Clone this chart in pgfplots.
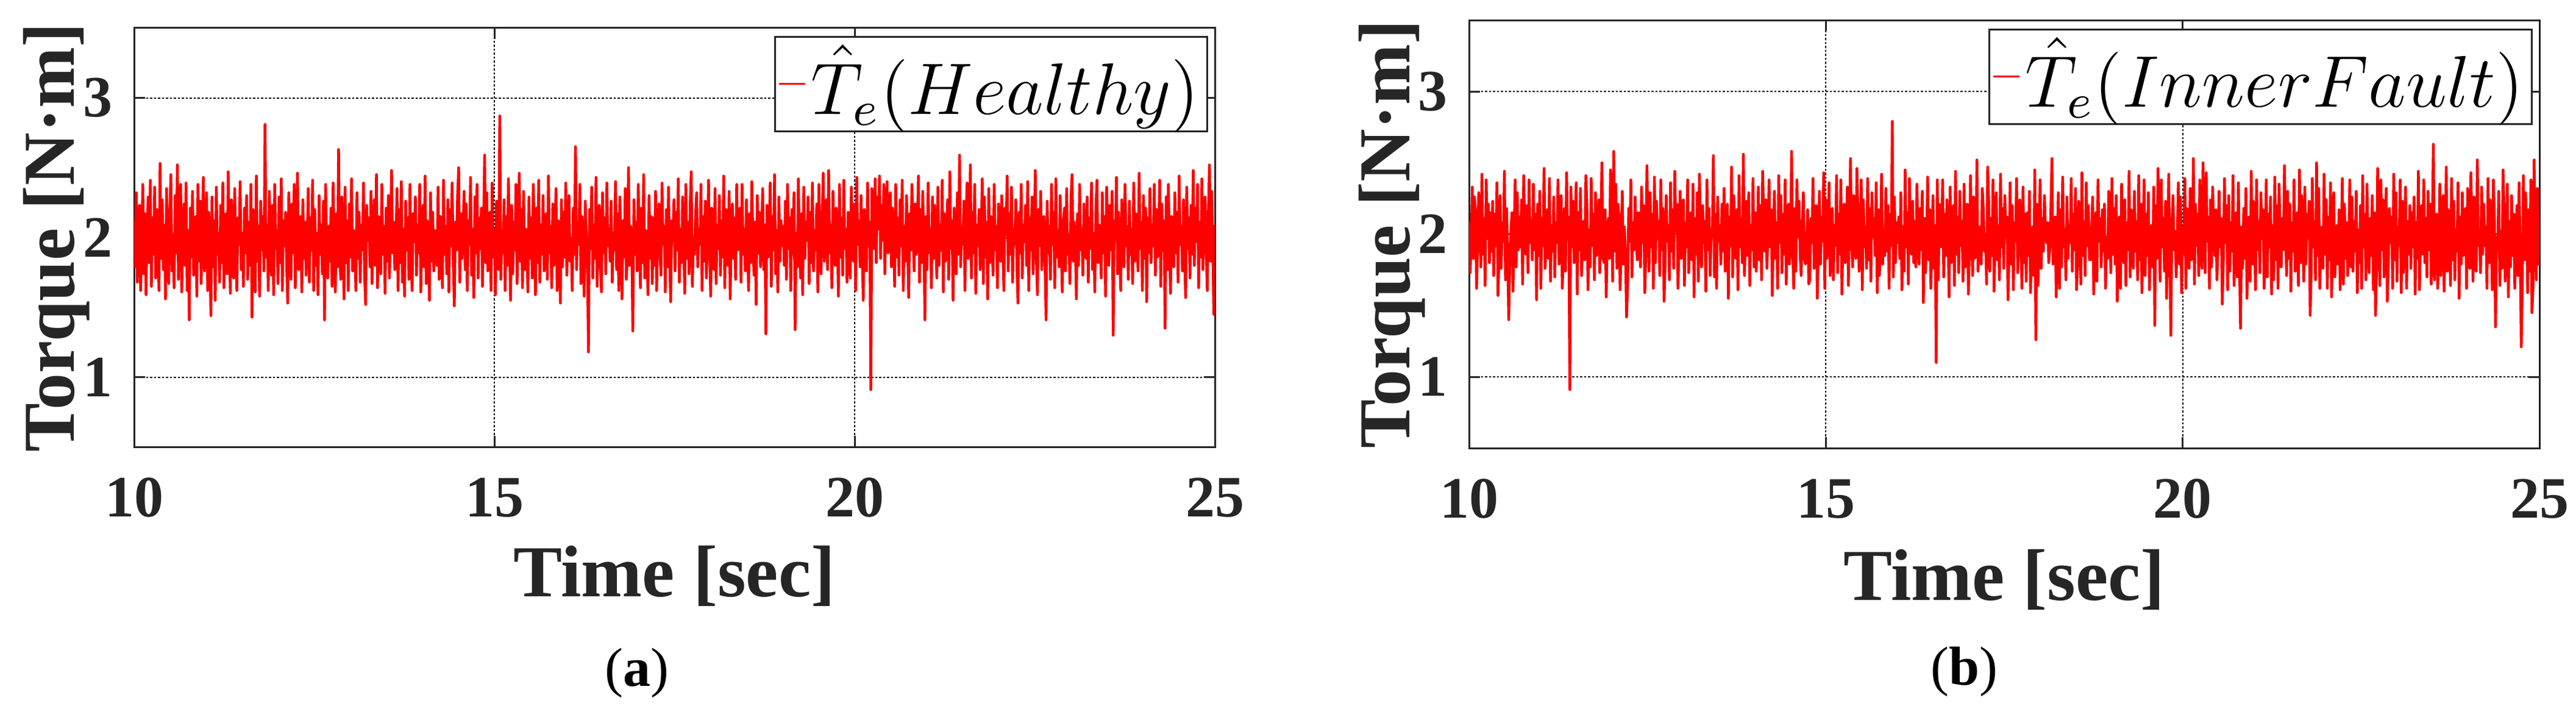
\documentclass[border=0pt]{standalone}
\usepackage{pgfplots}
\pgfplotsset{compat=1.18}
\usepackage{pgfplotstable}
\usepackage{fontspec}
\setmainfont{Liberation Serif}
\definecolor{axgray}{RGB}{38,38,38}

\pgfplotstableread[row sep=\\]{
y\\
2.12\\1.79\\2.32\\1.68\\2.03\\2.23\\1.62\\1.92\\2.38\\1.74\\2.17\\1.59\\2.06\\2.29\\1.82\\2.41\\1.65\\2.14\\1.88\\2.36\\
1.71\\2.20\\1.95\\1.62\\2.53\\1.85\\2.27\\1.77\\2.09\\1.56\\2.35\\1.94\\1.67\\2.18\\2.45\\1.76\\2.02\\1.64\\2.30\\1.89\\
2.52\\1.70\\2.11\\2.38\\1.61\\1.98\\2.24\\1.80\\2.39\\1.62\\2.05\\1.41\\2.21\\1.86\\2.33\\1.73\\1.97\\2.15\\1.58\\2.38\\
1.83\\2.26\\1.67\\2.08\\2.43\\1.76\\1.94\\2.32\\1.62\\2.18\\1.91\\1.44\\2.29\\1.79\\2.12\\1.55\\2.36\\1.88\\2.03\\1.68\\
2.23\\1.82\\2.39\\1.64\\2.00\\2.17\\1.74\\2.47\\1.92\\1.60\\2.27\\2.06\\1.71\\2.35\\1.85\\1.62\\2.14\\1.95\\2.40\\1.77\\
2.03\\1.65\\2.21\\1.89\\2.30\\1.70\\2.11\\1.80\\2.38\\1.43\\2.20\\1.97\\1.61\\2.44\\1.83\\2.08\\1.58\\2.26\\1.91\\2.15\\
1.76\\2.81\\1.86\\2.09\\1.62\\2.33\\1.98\\1.73\\2.23\\1.59\\2.38\\1.92\\2.05\\1.67\\2.29\\1.82\\2.42\\1.62\\2.12\\1.94\\
2.18\\1.79\\1.53\\2.32\\2.02\\1.70\\2.24\\1.89\\2.38\\1.64\\2.06\\2.46\\1.77\\1.95\\2.15\\1.61\\2.27\\1.85\\2.11\\1.73\\
1.97\\2.35\\1.68\\2.14\\1.91\\2.41\\1.62\\2.20\\1.80\\2.03\\1.59\\2.30\\1.88\\2.09\\1.74\\2.26\\1.41\\2.38\\1.94\\1.71\\
2.08\\1.83\\2.21\\1.65\\2.39\\1.92\\1.61\\2.17\\1.79\\2.63\\1.89\\1.70\\2.29\\2.00\\1.56\\2.36\\1.82\\2.12\\1.62\\2.24\\
1.86\\2.42\\1.76\\2.05\\1.95\\1.62\\2.32\\1.85\\2.18\\1.68\\2.09\\1.91\\2.39\\1.73\\1.52\\2.23\\1.98\\2.14\\1.79\\2.33\\
1.67\\2.02\\2.27\\1.80\\2.45\\1.64\\2.15\\1.92\\1.74\\2.38\\1.88\\2.08\\1.60\\2.21\\1.83\\2.30\\1.71\\2.03\\2.48\\1.89\\
2.11\\1.77\\1.94\\2.35\\1.62\\2.20\\1.82\\2.40\\1.68\\2.06\\1.58\\2.26\\1.91\\2.14\\1.70\\2.38\\1.86\\1.62\\2.17\\1.97\\
2.29\\1.73\\2.09\\1.89\\2.38\\1.61\\2.00\\2.23\\1.79\\2.44\\1.67\\2.12\\1.92\\1.55\\2.32\\1.83\\2.18\\1.76\\2.05\\1.95\\
1.80\\2.36\\1.70\\2.15\\1.98\\1.64\\2.41\\1.88\\2.08\\1.74\\2.27\\1.61\\2.20\\1.94\\2.39\\1.82\\1.51\\2.11\\1.91\\2.30\\
2.50\\1.68\\2.17\\1.85\\2.03\\2.33\\1.77\\2.24\\1.62\\2.12\\1.95\\2.43\\1.73\\2.06\\1.57\\2.29\\1.89\\2.38\\1.71\\2.14\\
1.92\\2.21\\1.65\\2.09\\2.59\\1.82\\2.32\\1.76\\1.97\\2.18\\1.62\\2.39\\1.86\\2.05\\1.59\\2.26\\1.79\\1.77\\2.87\\1.70\\
2.02\\1.89\\2.27\\1.62\\2.15\\1.80\\2.42\\1.95\\1.55\\2.23\\1.74\\2.11\\1.91\\2.38\\1.67\\2.03\\2.46\\1.83\\2.20\\1.64\\
2.33\\1.77\\2.06\\1.94\\1.61\\2.29\\1.85\\2.14\\1.71\\2.38\\1.98\\1.59\\2.21\\1.82\\2.41\\1.68\\2.09\\1.88\\2.30\\1.76\\
1.95\\2.17\\1.70\\2.44\\1.89\\2.08\\1.64\\2.24\\1.80\\2.02\\2.35\\1.62\\2.12\\1.92\\1.53\\2.27\\1.79\\2.18\\1.86\\2.39\\
1.73\\2.05\\2.30\\1.83\\1.98\\1.62\\2.21\\1.88\\2.65\\1.77\\2.11\\1.95\\2.38\\1.67\\2.15\\1.91\\1.58\\2.26\\2.03\\1.82\\
1.18\\2.20\\1.92\\2.36\\1.71\\2.09\\1.85\\2.43\\1.65\\2.00\\2.23\\1.79\\1.61\\2.32\\1.89\\2.14\\1.74\\2.39\\1.94\\2.06\\
1.83\\2.26\\1.68\\2.03\\1.91\\2.40\\1.77\\2.17\\1.62\\2.29\\1.97\\1.56\\2.12\\1.86\\2.35\\1.70\\1.86\\2.50\\1.80\\2.08\\
1.94\\1.33\\2.27\\1.88\\2.11\\1.76\\2.38\\1.98\\1.64\\2.21\\1.82\\2.45\\1.71\\2.05\\1.92\\1.59\\2.30\\1.85\\2.15\\1.67\\
2.14\\1.80\\2.33\\1.62\\2.02\\2.24\\1.89\\1.73\\2.39\\1.95\\2.08\\1.61\\2.20\\1.79\\2.36\\1.86\\1.54\\2.12\\1.98\\2.27\\
1.76\\2.18\\1.91\\2.42\\1.68\\2.06\\1.82\\2.29\\1.94\\1.60\\2.38\\1.85\\2.11\\1.74\\2.23\\2.47\\1.65\\2.00\\1.88\\2.17\\
2.32\\1.79\\2.05\\1.95\\2.38\\1.62\\2.15\\1.83\\2.26\\1.71\\1.98\\2.41\\1.89\\1.58\\2.21\\2.08\\1.77\\2.35\\1.67\\2.09\\
1.92\\2.30\\1.73\\2.12\\1.86\\2.44\\1.64\\2.20\\1.97\\1.80\\2.33\\1.56\\2.03\\2.24\\1.85\\2.14\\1.70\\2.38\\1.91\\2.02\\
2.21\\1.68\\2.38\\1.88\\2.06\\1.76\\2.27\\1.95\\1.62\\2.17\\1.82\\2.40\\1.98\\1.73\\2.11\\1.52\\2.30\\1.89\\2.18\\1.79\\
1.97\\2.35\\1.77\\2.09\\1.31\\2.23\\1.86\\2.02\\2.39\\1.65\\2.15\\1.91\\2.45\\1.74\\2.05\\1.61\\2.29\\1.83\\2.12\\1.94\\
2.08\\1.80\\2.26\\1.70\\2.38\\1.92\\2.14\\1.62\\2.20\\1.88\\2.32\\1.34\\2.03\\1.79\\2.42\\1.95\\1.71\\2.17\\1.59\\2.36\\
1.85\\2.11\\1.98\\2.29\\1.67\\2.18\\1.82\\2.39\\1.76\\2.05\\1.91\\2.24\\1.61\\2.38\\1.94\\1.74\\2.15\\2.46\\1.83\\2.02\\
2.27\\1.77\\2.48\\1.89\\2.09\\1.64\\2.33\\1.97\\1.80\\2.21\\2.00\\1.58\\2.38\\1.86\\2.14\\1.73\\2.41\\1.92\\2.06\\1.68\\
2.18\\1.91\\1.71\\2.36\\2.03\\1.83\\2.24\\1.62\\2.43\\1.95\\2.12\\1.79\\2.30\\1.88\\1.55\\2.20\\2.02\\1.76\\2.39\\1.94\\
2.11\\0.91\\2.35\\2.17\\1.92\\2.42\\1.82\\2.29\\2.06\\2.44\\1.85\\2.23\\1.98\\2.38\\1.74\\2.18\\2.40\\1.89\\2.09\\2.32\\
1.79\\2.21\\2.00\\1.65\\2.38\\1.86\\2.14\\1.73\\2.27\\1.94\\2.41\\1.62\\2.08\\1.83\\2.30\\1.97\\1.57\\2.17\\1.91\\2.38\\
2.03\\1.76\\2.24\\1.88\\2.11\\2.44\\1.68\\2.20\\1.82\\2.33\\1.95\\1.41\\2.15\\1.77\\2.39\\1.89\\2.06\\1.64\\2.29\\1.85\\
2.23\\1.97\\1.71\\2.36\\1.80\\2.09\\1.91\\2.41\\1.61\\2.17\\1.83\\2.05\\2.27\\1.70\\2.47\\1.92\\2.12\\1.55\\2.21\\2.00\\
1.74\\2.32\\1.88\\2.59\\1.79\\2.06\\1.95\\2.26\\1.62\\2.14\\2.39\\1.85\\1.98\\2.52\\1.71\\2.18\\1.89\\2.38\\1.60\\2.09\\
1.94\\2.20\\1.77\\2.03\\2.42\\1.67\\2.29\\1.86\\2.11\\1.56\\2.35\\1.82\\2.15\\1.98\\1.73\\2.38\\1.91\\2.08\\1.64\\2.24\\
2.12\\1.83\\2.30\\1.92\\1.62\\2.21\\2.02\\2.44\\1.76\\2.17\\1.88\\2.36\\1.68\\2.06\\1.95\\2.27\\1.79\\1.53\\2.18\\1.89\\
2.38\\1.71\\2.09\\1.97\\2.23\\1.80\\2.40\\1.62\\2.14\\1.91\\2.29\\1.74\\2.03\\2.48\\1.85\\1.59\\2.20\\1.94\\2.33\\1.77\\
1.98\\2.15\\1.82\\1.41\\2.26\\1.89\\2.08\\1.70\\2.38\\1.95\\2.18\\1.64\\2.42\\1.86\\2.05\\1.79\\2.30\\1.92\\1.61\\2.12\\
2.21\\1.76\\2.35\\1.88\\2.02\\1.67\\2.27\\2.45\\1.83\\2.11\\1.94\\1.56\\2.17\\1.80\\2.38\\1.91\\2.06\\1.73\\2.24\\1.97\\
1.85\\2.29\\1.68\\2.14\\1.92\\2.39\\1.77\\2.03\\1.61\\2.20\\2.41\\1.82\\2.09\\1.95\\1.71\\2.32\\1.89\\2.15\\1.58\\2.36\\
2.05\\1.80\\2.23\\1.91\\2.33\\1.30\\2.12\\1.98\\2.43\\1.74\\2.18\\1.86\\1.62\\2.27\\2.00\\1.79\\2.38\\1.94\\2.08\\1.70\\
2.26\\1.88\\2.06\\1.67\\2.39\\1.83\\2.17\\1.95\\1.76\\2.46\\1.92\\2.11\\1.62\\2.30\\1.85\\2.21\\1.54\\2.14\\1.89\\2.35\\
1.82\\2.09\\1.94\\2.38\\1.73\\2.20\\1.86\\2.03\\2.41\\1.65\\2.24\\1.91\\2.12\\1.35\\2.29\\1.77\\2.38\\1.97\\1.60\\2.15\\
2.02\\1.79\\2.32\\1.89\\2.18\\1.68\\2.44\\1.95\\2.08\\1.76\\2.27\\1.85\\1.57\\2.36\\1.92\\2.14\\1.71\\2.23\\1.88\\2.48\\
1.80\\2.21\\1.97\\2.38\\1.64\\2.11\\1.86\\2.42\\1.77\\2.05\\2.29\\1.91\\1.62\\2.17\\2.52\\1.83\\2.33\\1.94\\1.45\\2.09\\
}\healthy

\pgfplotstableread[row sep=\\]{
y\\
2.09\\1.73\\1.94\\2.33\\1.83\\2.26\\2.17\\1.62\\1.91\\2.29\\2.05\\1.77\\2.42\\1.86\\2.11\\1.64\\2.38\\1.97\\2.21\\1.80\\
2.15\\1.88\\2.23\\1.71\\2.14\\1.92\\2.36\\1.57\\1.85\\2.27\\1.76\\2.08\\1.95\\2.44\\1.68\\2.18\\1.89\\1.40\\1.79\\2.02\\
2.15\\1.60\\1.97\\2.38\\1.77\\2.29\\1.89\\2.12\\1.91\\2.24\\1.65\\2.41\\2.03\\1.86\\2.20\\1.73\\2.38\\1.94\\2.09\\1.82\\
2.35\\1.89\\2.14\\1.54\\2.21\\1.85\\2.30\\1.62\\2.11\\1.92\\2.46\\1.76\\1.95\\2.17\\1.83\\2.39\\1.67\\2.06\\1.88\\2.26\\
1.70\\2.08\\1.94\\2.38\\1.79\\2.00\\2.27\\1.62\\1.86\\2.18\\1.74\\2.43\\1.98\\2.12\\0.91\\2.33\\1.91\\2.23\\1.80\\2.05\\
2.36\\1.58\\2.15\\1.89\\2.32\\1.71\\1.95\\2.09\\1.82\\2.41\\2.20\\1.61\\2.03\\1.77\\2.39\\1.92\\2.14\\1.68\\2.29\\1.85\\
1.97\\2.24\\1.73\\2.06\\2.50\\1.83\\1.80\\2.17\\1.56\\1.94\\2.11\\1.83\\2.45\\2.27\\1.67\\2.58\\1.88\\2.35\\1.76\\2.21\\
2.12\\1.61\\1.92\\2.30\\1.79\\2.05\\1.86\\1.42\\1.64\\2.18\\1.95\\2.38\\1.70\\2.08\\1.89\\2.26\\1.95\\1.82\\2.15\\1.98\\
1.77\\2.33\\1.94\\2.20\\1.59\\1.85\\2.48\\2.03\\1.74\\2.29\\1.91\\2.14\\1.62\\2.40\\1.80\\2.23\\1.97\\2.09\\1.71\\2.38\\
1.89\\2.18\\1.53\\1.79\\2.27\\1.95\\2.06\\1.68\\2.36\\1.88\\2.17\\1.76\\2.44\\2.02\\2.21\\1.62\\1.92\\2.30\\1.83\\2.12\\
2.24\\1.64\\2.08\\1.91\\2.38\\1.73\\1.98\\2.15\\1.82\\2.35\\1.56\\2.11\\1.86\\2.29\\1.67\\2.42\\2.03\\1.77\\2.20\\1.94\\
2.09\\1.60\\2.38\\1.89\\2.18\\1.71\\2.00\\1.98\\2.55\\1.70\\2.14\\1.62\\2.26\\1.95\\2.06\\1.79\\2.21\\1.88\\2.32\\1.74\\
2.00\\2.21\\1.55\\2.12\\1.92\\2.47\\1.70\\2.27\\2.05\\1.83\\2.17\\1.61\\2.41\\1.91\\2.09\\1.80\\2.56\\1.71\\1.97\\2.23\\
1.85\\2.29\\1.64\\2.06\\1.89\\2.39\\1.77\\2.15\\1.74\\1.95\\2.33\\1.82\\2.20\\1.68\\2.44\\2.11\\1.88\\2.24\\1.76\\2.03\\
2.38\\1.91\\2.17\\1.57\\1.97\\2.30\\1.83\\2.08\\1.62\\2.41\\1.94\\2.27\\1.73\\2.14\\1.86\\2.38\\1.65\\2.00\\2.21\\1.79\\
1.89\\2.58\\1.89\\1.62\\2.18\\1.74\\2.38\\1.98\\2.23\\1.85\\1.71\\2.06\\2.29\\1.82\\1.79\\1.92\\2.17\\1.65\\1.68\\2.11\\
1.94\\2.39\\1.76\\2.02\\2.20\\1.55\\1.88\\2.30\\1.79\\2.12\\1.95\\2.43\\1.62\\2.24\\1.83\\2.03\\2.36\\1.71\\1.91\\2.18\\
1.68\\2.06\\1.92\\2.41\\1.73\\2.14\\1.86\\2.38\\1.58\\2.00\\2.21\\1.80\\1.97\\2.33\\1.64\\2.09\\2.53\\1.95\\1.77\\2.27\\
2.02\\1.83\\2.46\\2.15\\1.74\\1.94\\2.38\\1.61\\2.24\\1.91\\2.05\\1.76\\2.39\\1.82\\2.18\\1.67\\2.29\\1.98\\2.11\\1.85\\
2.36\\1.59\\2.17\\1.71\\1.95\\2.42\\1.79\\2.03\\1.85\\2.32\\1.88\\2.20\\1.62\\2.14\\1.92\\2.79\\1.70\\2.26\\1.80\\2.08\\
1.94\\2.12\\1.83\\2.29\\1.61\\2.05\\1.74\\2.45\\1.91\\2.15\\1.65\\2.39\\2.02\\1.86\\2.23\\1.80\\2.09\\1.77\\2.35\\1.97\\
1.79\\2.18\\1.89\\2.30\\1.52\\2.11\\1.73\\1.98\\2.40\\1.82\\2.17\\1.62\\1.95\\2.27\\1.76\\2.06\\1.10\\2.38\\1.68\\2.21\\
2.02\\1.91\\2.38\\1.70\\2.14\\1.85\\2.24\\2.03\\1.56\\2.33\\1.80\\1.97\\2.20\\1.64\\2.44\\1.86\\2.12\\1.73\\2.30\\1.92\\
2.09\\1.67\\2.35\\1.77\\2.08\\2.21\\1.58\\1.89\\2.41\\1.98\\1.71\\2.26\\1.83\\1.85\\2.52\\1.74\\1.95\\2.05\\1.79\\2.32\\
2.17\\1.88\\2.00\\1.65\\2.47\\2.23\\1.74\\2.11\\1.85\\2.38\\1.60\\1.94\\2.29\\1.82\\2.06\\1.68\\2.42\\1.91\\2.18\\1.76\\
2.27\\1.98\\2.12\\1.54\\1.86\\2.36\\1.79\\2.20\\1.61\\2.08\\1.95\\2.39\\1.73\\1.89\\2.24\\2.02\\1.62\\2.33\\1.80\\2.14\\
1.67\\2.15\\1.85\\2.30\\1.59\\1.92\\2.05\\1.71\\2.45\\1.26\\2.21\\1.64\\1.98\\2.38\\1.76\\2.11\\1.88\\2.27\\2.03\\1.94\\
2.08\\1.80\\1.89\\2.18\\2.53\\1.79\\1.86\\2.12\\1.56\\1.97\\2.29\\1.62\\2.17\\1.77\\2.40\\1.91\\2.03\\1.68\\2.26\\1.83\\
2.06\\1.94\\2.39\\1.74\\2.14\\1.89\\2.32\\1.61\\1.79\\2.23\\2.00\\1.65\\2.43\\1.85\\2.09\\1.71\\2.36\\1.92\\2.20\\1.82\\
1.82\\2.03\\2.26\\1.58\\1.91\\2.15\\1.67\\2.38\\1.95\\2.11\\1.77\\2.17\\1.88\\2.21\\1.62\\1.98\\1.83\\2.30\\2.05\\1.73\\
2.39\\1.86\\2.18\\1.79\\2.27\\1.53\\1.92\\2.12\\1.62\\2.35\\2.02\\1.80\\2.24\\1.64\\2.08\\1.89\\2.44\\1.70\\2.17\\1.95\\
1.76\\2.30\\1.88\\2.09\\1.68\\2.41\\1.82\\2.21\\1.59\\1.98\\2.38\\1.71\\2.14\\1.85\\2.29\\1.61\\1.94\\2.06\\1.77\\2.33\\
1.36\\2.20\\1.83\\2.46\\2.03\\1.67\\2.38\\1.91\\2.11\\1.74\\2.23\\1.55\\1.95\\2.42\\1.80\\1.29\\2.08\\2.27\\1.89\\2.02\\
1.70\\2.00\\2.36\\1.79\\2.26\\1.59\\2.05\\1.86\\2.39\\1.62\\2.18\\1.97\\1.76\\2.32\\1.82\\1.88\\2.53\\1.65\\2.21\\1.92\\
2.14\\1.71\\2.38\\1.89\\1.76\\2.50\\2.06\\1.73\\2.43\\1.95\\2.12\\1.62\\2.24\\1.77\\2.33\\2.03\\1.85\\2.17\\1.68\\1.91\\
2.30\\1.91\\2.11\\1.51\\1.82\\2.39\\1.94\\2.20\\1.61\\2.27\\1.74\\2.08\\1.88\\2.41\\1.64\\1.98\\2.15\\1.70\\2.36\\1.80\\
1.34\\2.05\\1.76\\2.18\\1.83\\2.32\\1.55\\1.92\\2.12\\1.67\\2.44\\1.79\\2.23\\2.00\\1.61\\2.38\\1.89\\2.09\\1.73\\2.29\\
1.97\\2.17\\1.62\\1.86\\2.38\\1.70\\2.14\\1.91\\2.26\\1.58\\2.06\\1.68\\2.40\\1.82\\2.20\\1.62\\2.35\\1.94\\1.77\\2.11\\
1.89\\2.48\\2.03\\1.71\\2.30\\1.83\\2.21\\1.60\\2.08\\1.88\\2.38\\1.74\\1.92\\2.15\\1.64\\2.45\\1.80\\2.27\\2.02\\1.67\\
2.33\\1.79\\2.14\\1.98\\2.23\\1.43\\1.73\\2.39\\1.91\\2.09\\1.68\\2.50\\1.85\\2.32\\1.62\\1.95\\2.05\\1.76\\2.42\\1.86\\
2.24\\1.62\\2.12\\1.82\\2.36\\1.56\\2.00\\2.29\\1.70\\1.89\\2.06\\1.79\\2.17\\1.61\\1.92\\2.39\\1.65\\2.21\\1.83\\2.08\\
1.71\\1.94\\2.38\\1.77\\2.26\\1.74\\2.09\\1.88\\2.30\\1.59\\2.03\\1.80\\2.20\\1.62\\2.41\\1.91\\2.14\\1.68\\2.35\\1.97\\
1.73\\2.11\\1.85\\2.27\\1.61\\2.15\\1.43\\1.77\\2.46\\2.06\\1.64\\2.38\\1.89\\2.24\\1.70\\2.02\\2.32\\1.53\\1.79\\2.18\\
1.94\\2.12\\1.62\\2.42\\1.82\\2.29\\1.67\\2.05\\1.92\\2.38\\1.59\\2.23\\1.73\\1.98\\2.33\\1.62\\2.09\\1.86\\2.20\\1.76\\
2.15\\1.91\\2.26\\1.58\\2.08\\1.83\\2.44\\1.61\\1.97\\2.20\\1.86\\2.38\\1.80\\2.11\\1.70\\2.30\\1.89\\2.21\\1.65\\2.03\\
2.63\\1.68\\1.95\\2.14\\1.62\\1.85\\2.35\\1.71\\2.06\\2.27\\1.60\\1.92\\2.47\\1.74\\2.17\\2.00\\1.64\\2.39\\1.82\\2.23\\
1.68\\2.03\\1.88\\2.36\\1.55\\2.12\\1.79\\2.29\\1.85\\1.91\\2.18\\1.62\\2.32\\1.94\\1.76\\2.43\\2.08\\1.67\\2.26\\1.83\\
1.74\\2.52\\1.92\\1.97\\1.73\\2.33\\1.86\\2.21\\1.92\\2.05\\1.62\\2.39\\1.80\\2.24\\1.98\\1.61\\2.38\\2.11\\1.35\\1.98\\
1.89\\2.30\\1.64\\2.02\\1.76\\2.45\\2.18\\1.67\\1.94\\2.35\\1.56\\2.09\\1.77\\2.27\\1.85\\2.14\\1.62\\1.95\\2.20\\1.71\\
2.36\\1.88\\1.21\\1.65\\2.41\\1.82\\2.29\\2.06\\1.59\\2.17\\1.74\\2.38\\1.45\\1.62\\2.52\\2.03\\1.68\\2.32\\1.79\\2.12\\
}\inner

\pgfplotsset{
  torque/.style={
    scale only axis,
    anchor=south west,
    xmin=10, xmax=25, ymin=0.5, ymax=3.5,
    xtick={10,15,20,25}, ytick={1,2,3},
    tick align=inside,
    major tick length=1.77pt,
    every tick/.style={axgray, line width=0.3pt},
    axis line style={axgray, line width=0.3pt},
    grid=major,
    major grid style={black, line width=0.2pt, dash pattern=on 0.35pt off 0.3pt},
    /pgf/number format/assume math mode=true,
    tick label style={font=\fontsize{9.6}{11}\selectfont\bfseries, text=axgray},
    xticklabel style={anchor=base, yshift=-11.4pt},
    label style={font=\fontsize{12}{14}\selectfont\bfseries, text=axgray},
    xlabel={Time [sec]},
    ylabel={Torque [N·m]},
    legend cell align=left,
    legend style={font=\fontsize{12}{14}\selectfont, draw=axgray, line width=0.3pt,
      anchor=north east, inner sep=0.5pt, nodes={inner sep=0.8pt}},
    legend image code/.code={\draw[#1, line width=0.3pt] (0pt,0pt) -- (4.3pt,0pt);},
  }
}

\begin{document}
\begin{tikzpicture}
\begin{axis}[torque,
  at={(22pt,42.4pt)}, width=177.3pt, height=68.7pt,
  xlabel style={at={(axis description cs:0.5,-0.3566)}, anchor=base},
  ylabel style={at={(axis description cs:-0.0553,0.5)}, anchor=base},
  legend style={at={(axis description cs:0.9938,0.981)}}]
\addplot[red, line width=0.45pt, line join=round] table[x expr={10+\coordindex*0.015015015}, y=y] {\healthy};
\addlegendentry{$\hat{T}_e(Healthy)$}
\end{axis}
\begin{axis}[torque,
  at={(241pt,42.2pt)}, width=175.6pt, height=70.2pt,
  xlabel style={at={(axis description cs:0.5,-0.3561)}, anchor=base},
  ylabel style={at={(axis description cs:-0.0558,0.5)}, anchor=base},
  legend style={at={(axis description cs:0.9937,0.980)}}]
\addplot[red, line width=0.45pt, line join=round] table[x expr={10+\coordindex*0.015015015}, y=y] {\inner};
\addlegendentry{$\hat{T}_e(InnerFault)$}
\end{axis}
\node[anchor=base, font=\fontsize{9}{11}\selectfont] at (104.5pt,3.2pt) {(\textbf{a})};
\node[anchor=base, font=\fontsize{9}{11}\selectfont] at (322.2pt,3.4pt) {(\textbf{b})};
\pgfresetboundingbox
\path[use as bounding box] (0,0) rectangle (422.6pt,115.7pt);
\end{tikzpicture}
\end{document}
